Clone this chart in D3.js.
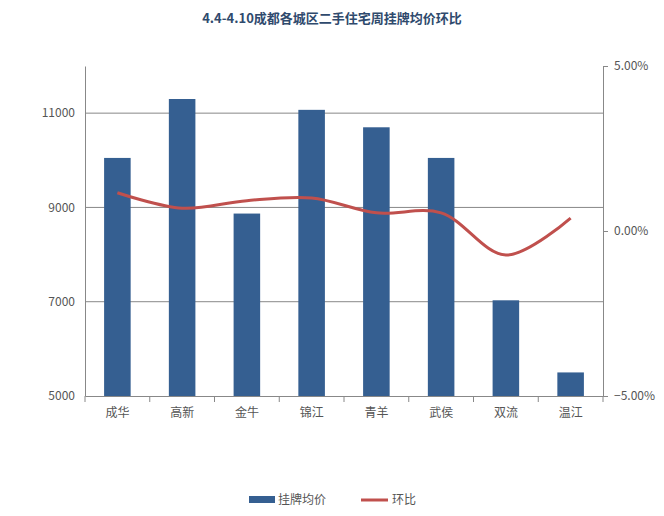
<!DOCTYPE html>
<html><head><meta charset="utf-8">
<script src="https://cdn.jsdelivr.net/npm/d3@7"></script>
<style>body{margin:0;background:#fff;font-family:"Microsoft YaHei","Noto Sans CJK SC",sans-serif;}</style>
</head><body><svg id="c" width="664" height="516"></svg>
<script>
var districts = ["成华","高新","金牛","锦江","青羊","武侯","双流","温江"];
var prices = [10050, 11300, 8870, 11070, 10700, 10050, 7030, 5500];
var changes = [0.0116, 0.0069, 0.0092, 0.0100, 0.0055, 0.0055, -0.0073, 0.0039];
var leftTicks = [5000, 7000, 9000, 11000];
var rightTicks = [-0.05, 0, 0.05];

var svg = d3.select("#c"), L = 85, R = 603, T = 66, B = 396;
var grey = "#888", txt = "#555", blue = "#355f91", red = "#c0504d";

var x = d3.scaleBand().domain(districts).range([L, R]).paddingInner(0.59).paddingOuter(0.295);
var xb = d3.scaleBand().domain(districts).range([L, R]);
var y = d3.scaleLinear().domain([5000, 12000]).range([B, T]);
var y2 = d3.scaleLinear().domain([-0.05, 0.05]).range([B, T]);

svg.append("text").attr("x", 332).attr("y", 23).attr("text-anchor", "middle")
  .attr("font-size", 13).attr("font-weight", "bold").attr("fill", "#2f4a6d")
  .text("4.4-4.10成都各城区二手住宅周挂牌均价环比");

// gridlines
svg.selectAll(".g").data(leftTicks.slice(1)).enter().append("line")
  .attr("x1", L).attr("x2", R).attr("y1", function(d) { return y(d); }).attr("y2", function(d) { return y(d); })
  .attr("stroke", grey).attr("stroke-width", 1);

svg.selectAll(".bar").data(prices).enter().append("rect")
  .attr("x", function(d, i) { return x(districts[i]); })
  .attr("width", x.bandwidth())
  .attr("y", function(d) { return y(d); })
  .attr("height", function(d) { return B - y(d); })
  .attr("fill", blue);

// axes
var ya = svg.append("g").attr("transform", "translate(" + L + ",0)")
  .call(d3.axisLeft(y).tickValues(leftTicks).tickSize(0).tickPadding(10).tickFormat(d3.format("d")));
var ya2 = svg.append("g").attr("transform", "translate(" + R + ",0)")
  .call(d3.axisRight(y2).tickValues(rightTicks).tickSize(5).tickPadding(6).tickFormat(d3.format(".2%")));
var xa = svg.append("g").attr("transform", "translate(0," + B + ")")
  .call(d3.axisBottom(xb).tickSize(0).tickPadding(12));
xa.selectAll(".tick").append("line").attr("x1", -xb.bandwidth() / 2).attr("x2", -xb.bandwidth() / 2).attr("y2", 6).attr("stroke", grey);
xa.append("line").attr("x1", R).attr("x2", R).attr("y2", 6).attr("stroke", grey);
[ya, ya2, xa].forEach(function(a) {
  a.select(".domain").attr("stroke", grey);
  a.selectAll("text").attr("fill", txt).attr("font-size", 12).attr("font-family", "'Noto Sans CJK SC',sans-serif");
  a.selectAll(".tick line").attr("stroke", grey);
});

var line = d3.line()
  .x(function(d, i) { return xb(districts[i]) + xb.bandwidth() / 2; })
  .y(function(d) { return y2(d); })
  .curve(d3.curveCatmullRom.alpha(0.5));
svg.append("path").datum(changes).attr("d", line).attr("fill", "none")
  .attr("stroke", red).attr("stroke-width", 3);

// legend
var lg = svg.append("g").attr("transform", "translate(249,500)");
lg.append("rect").attr("x", 0).attr("y", -4).attr("width", 26).attr("height", 7).attr("fill", blue);
lg.append("text").attr("x", 29).attr("y", 4).attr("font-size", 12).attr("fill", txt).text("挂牌均价");
lg.append("line").attr("x1", 112).attr("x2", 139).attr("y1", 0).attr("y2", 0).attr("stroke", red).attr("stroke-width", 3);
lg.append("text").attr("x", 143).attr("y", 4).attr("font-size", 12).attr("fill", txt).text("环比");
</script></body></html>
